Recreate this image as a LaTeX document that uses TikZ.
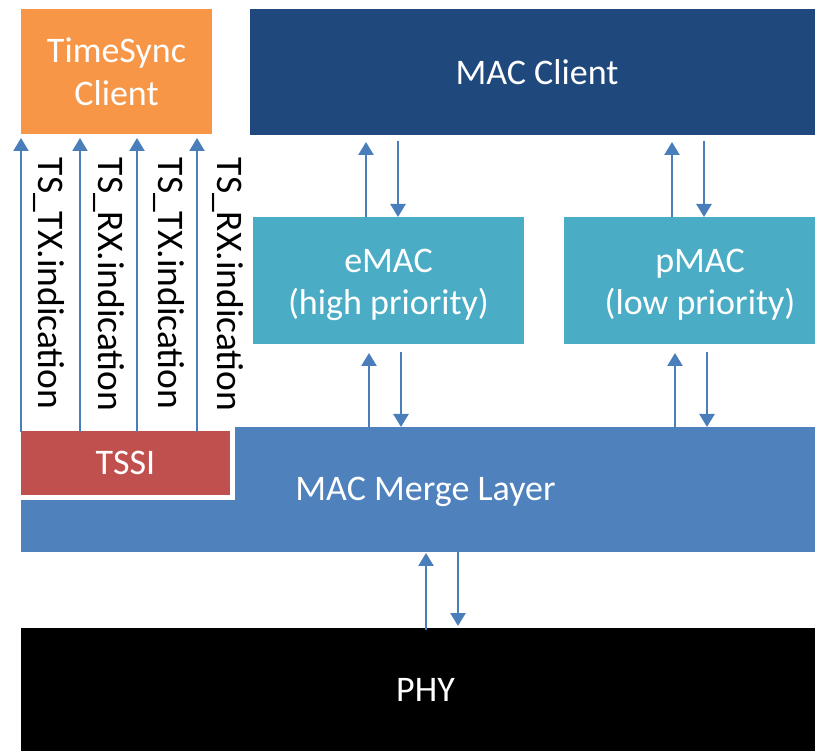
\documentclass[tikz,border=0pt]{standalone}
\usepackage{fontspec}
\setmainfont{Carlito}
\usetikzlibrary{arrows.meta}
\definecolor{tsorange}{HTML}{F79646}
\definecolor{macdark}{HTML}{1F497D}
\definecolor{macteal}{HTML}{4BACC6}
\definecolor{mergeblue}{HTML}{4F81BD}
\definecolor{tsred}{HTML}{C0504D}
\definecolor{arrowblue}{HTML}{4A7EBB}
\begin{document}
\begin{tikzpicture}[x=1pt,y=-1pt,
  box/.style={rectangle, inner sep=0pt, outer sep=0pt, text=white,
    font=\fontsize{36}{43}\selectfont, align=center},
  txt/.style={inner sep=0pt, outer sep=0pt, text=white,
    font=\fontsize{36}{42}\selectfont, align=center},
  arr/.style={draw=arrowblue, line width=2.5pt, -{Triangle[width=15pt,length=13pt]}},
  lab/.style={rotate=-90, anchor=base west, inner sep=0pt, outer sep=0pt,
    font=\fontsize{37.5}{43}\selectfont}]
\useasboundingbox (0,0) rectangle (815,751);
% boxes
\node[box, fill=tsorange, minimum width=191pt, minimum height=125pt] (tsc) at (116.5,71.5) {TimeSync\\Client};
\node[box, fill=macdark, minimum width=574pt, minimum height=126pt] (macc) at (537,72) {MAC Client};
\node[box, fill=macteal, minimum width=271pt, minimum height=127pt] (emac) at (388.5,280.5) {};
\node[txt] (emact) at (388.5,285) {eMAC\\(high priority)};
\node[box, fill=macteal, minimum width=272pt, minimum height=127pt] (pmac) at (700,280.5) {};
\node[txt] (pmact) at (700,285) {pMAC\\(low priority)};
\node[box, fill=mergeblue, minimum width=809pt, minimum height=125pt] (merge) at (425.5,489.5) {};
\node[txt] (merget) at (425.5,492) {MAC Merge Layer};
\node[box, fill=black, minimum width=809pt, minimum height=124pt] (phy) at (425.5,690) {PHY};
\node[box, fill=tsred, draw=white, line width=5pt, minimum width=214pt, minimum height=68.5pt] (tssi) at (125.5,463.25) {TSSI};
% x positions
\foreach \x/\n in {21/a,80/b,137/c,197/d,366/eu,398/ed,369/fu,401/fd,672/gu,704/gd,675/hu,707/hd,426/pu,458/pd}
  \coordinate (x\n) at (\x,0);
% TSSI -> TimeSync arrows
\foreach \n in {a,b,c,d}
  \draw[arr, line width=2.2pt, shorten <=-3pt, shorten >=4pt] (tssi.north -| x\n) -- (tsc.south -| x\n);
% eMAC <-> MAC Client
\draw[arr, shorten >=7pt] (emac.north -| xeu) -- (macc.south -| xeu);
\draw[arr, shorten <=6pt] (macc.south -| xed) -- (emac.north -| xed);
% pMAC <-> MAC Client
\draw[arr, shorten >=7pt] (pmac.north -| xgu) -- (macc.south -| xgu);
\draw[arr, shorten <=6pt] (macc.south -| xgd) -- (pmac.north -| xgd);
% Merge <-> eMAC
\draw[arr, shorten >=9pt] (merge.north -| xfu) -- (emac.south -| xfu);
\draw[arr, shorten <=8pt] (emac.south -| xfd) -- (merge.north -| xfd);
% Merge <-> pMAC
\draw[arr, shorten >=9pt] (merge.north -| xhu) -- (pmac.south -| xhu);
\draw[arr, shorten <=8pt] (pmac.south -| xhd) -- (merge.north -| xhd);
% PHY <-> Merge
\draw[arr, shorten <=-2pt, shorten >=1pt] (phy.north -| xpu) -- (merge.south -| xpu);
\draw[arr, shorten >=2pt] (merge.south -| xpd) -- (phy.north -| xpd);
% labels
\node[lab] (l1) at (38,158) {TS\_TX.indication};
\node[lab] (l2) at (98,158) {TS\_RX.indication};
\node[lab] (l3) at (158,158) {TS\_TX.indication};
\node[lab] (l4) at (217,158) {TS\_RX.indication};
\end{tikzpicture}
\end{document}
